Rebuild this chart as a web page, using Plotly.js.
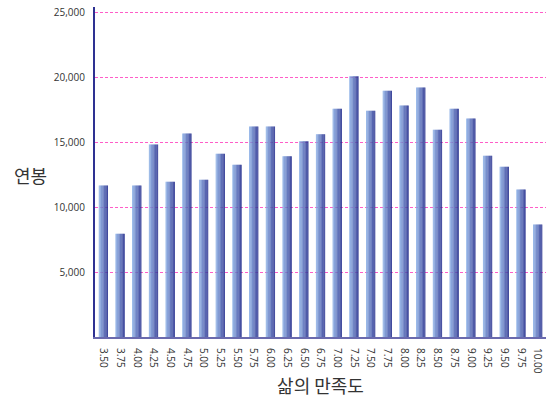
<!DOCTYPE html>
<html>
<head>
<meta charset="utf-8">
<script src="https://cdn.plot.ly/plotly-3.0.1.min.js"></script>
<style>html,body{margin:0;padding:0;background:#fff;}#chart{width:546px;height:398px;}</style>
</head>
<body>
<div id="chart"></div>
<script>
const categories = ["3.50","3.75","4.00","4.25","4.50","4.75","5.00","5.25","5.50","5.75","6.00","6.25","6.50","6.75","7.00","7.25","7.50","7.75","8.00","8.25","8.50","8.75","9.00","9.25","9.50","9.75","10.00"];
const salary = [11650,7950,11650,14800,11950,15650,12100,14100,13250,16200,16200,13900,15050,15600,17550,20050,17400,18950,17800,19200,15950,17550,16800,13950,13100,11350,8650];
const yTicks = [5000,10000,15000,20000,25000];
const yTickLabels = ["5,000","10,000","15,000","20,000","25,000"];

// gradient strips (light left -> dark right)
const nStrips = 12;
const barWidth = 0.55;
const c0 = [140,176,230], c1 = [36,46,142];
const traces = [];
for (let i = 0; i < nStrips; i++) {
  const t = i / (nStrips - 1);
  const c = c0.map((v, k) => Math.round(v + (c1[k] - v) * t));
  const w = barWidth / nStrips;
  traces.push({
    type: 'bar',
    x: categories,
    y: salary,
    offset: -barWidth / 2 + i * w,
    width: w * 1.08,
    marker: {color: 'rgb(' + c.join(',') + ')', line: {width: 0}},
    hoverinfo: 'skip',
    showlegend: false
  });
}

const layout = {
  width: 546, height: 398,
  margin: {l: 95, r: 0, t: 7, b: 61},
  paper_bgcolor: '#fff', plot_bgcolor: '#fff',
  barmode: 'overlay',
  font: {family: '"Open Sans", "Noto Sans CJK KR", sans-serif', color: '#333', size: 10},
  xaxis: {
    type: 'category',
    tickangle: 90,
    showgrid: false,
    showline: true, linecolor: '#6a6aae', linewidth: 2,
    ticks: '', ticklabelstandoff: 7,
    tickfont: {size: 10, color: '#333'},
    title: {text: '삶의 만족도', font: {family: '"Noto Sans CJK KR", sans-serif', size: 18, color: '#333'}, standoff: 10}
  },
  yaxis: {
    range: [0, 25385],
    tickvals: yTicks, ticktext: yTickLabels,
    showgrid: true, gridcolor: '#ff5cc8', griddash: '3px,2px', gridwidth: 1,
    showline: true, linecolor: '#2e3192', linewidth: 2,
    zeroline: false,
    ticks: '', ticklabelstandoff: 6,
    tickfont: {size: 10, color: '#333'}
  },
  annotations: [{
    text: '연봉', xref: 'paper', yref: 'paper', x: -0.143, y: 0.49,
    xanchor: 'center', yanchor: 'middle', showarrow: false,
    font: {family: '"Noto Sans CJK KR", sans-serif', size: 18, color: '#333'}
  }]
};
Plotly.newPlot('chart', traces, layout, {staticPlot: true, displayModeBar: false});
</script>
</body>
</html>
